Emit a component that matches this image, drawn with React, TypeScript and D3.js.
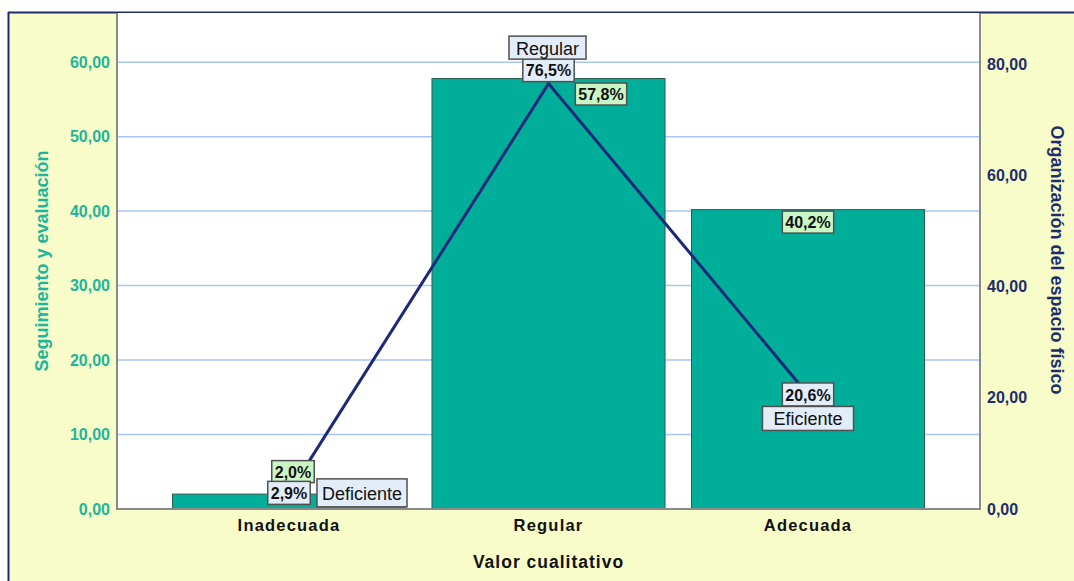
import React from "react";
import * as d3 from "d3";

const categories = ["Inadecuada", "Regular", "Adecuada"];
const barValues = [2.0, 57.8, 40.2];
const lineValues = [2.9, 76.5, 20.6];
const lineCategoryLabels = ["Deficiente", "Regular", "Eficiente"];
const leftTicks = [0, 10, 20, 30, 40, 50, 60];
const rightTicks = [0, 20, 40, 60, 80];
const leftTitle = "Seguimiento y evaluación";
const rightTitle = "Organización del espacio físico";
const xTitle = "Valor cualitativo";

const W = 1074;
const H = 581;
const plot = { left: 117, right: 980, top: 13, bottom: 509 };
const FONT = "'Liberation Sans', Arial, sans-serif";

const C = {
  bg: "#f8fcc9",
  bar: "#00ae9a",
  barStroke: "#2d5a52",
  line: "#1b2a78",
  grid: "#a9c5f2",
  axis: "#8a8a8a",
  teal: "#1db59b",
  navy: "#1e2c6b",
  green: "#c9f6c4",
  blue: "#e3edf9",
  boxStroke: "#505050",
};

const fmt = (v: number, d: number) => v.toFixed(d).replace(".", ",");

let ctx: CanvasRenderingContext2D | null = null;
function measure(text: string, size: number, bold: boolean, ls: number) {
  if (!ctx && typeof document !== "undefined") {
    ctx = document.createElement("canvas").getContext("2d");
  }
  if (ctx) {
    ctx.font = `${bold ? 700 : 400} ${size}px ${FONT}`;
    return ctx.measureText(text).width + ls * (text.length - 1);
  }
  return text.length * size * 0.55;
}

function Box({ cx, cy, text, fill, bold, size, ls, padX, h }: any) {
  const tw = measure(text, size, bold, ls);
  const bw = tw + padX * 2;
  return (
    <g>
      <rect x={cx - bw / 2} y={cy - h / 2} width={bw} height={h} fill={fill} stroke={C.boxStroke} strokeWidth={1.5} />
      <text x={cx} y={cy} textAnchor="middle" dominantBaseline="central" fontSize={size} fontWeight={bold ? 700 : 400} letterSpacing={ls} fill="#111" dy="0.05em">
        {text}
      </text>
    </g>
  );
}

export default function App() {
  const x = d3
    .scaleBand<string>()
    .domain(categories)
    .range([plot.left, plot.right])
    .paddingInner(0.102)
    .paddingOuter(0.2138);
  const yL = d3.scaleLinear().domain([0, 66.6]).range([plot.bottom, plot.top]);
  const yR = d3.scaleLinear().domain([0, 89.2]).range([plot.bottom, plot.top]);
  const cx = (c: string) => (x(c) as number) + x.bandwidth() / 2;

  const lineGen = d3
    .line<number>()
    .x((_, i) => cx(categories[i]))
    .y((d) => yR(d));

  // label layout offsets (relative to bar top / line point)
  const barLabelOffsets = [
    { dx: 4, dy: -22.5 },
    { dx: 52.5, dy: 15.5 },
    { dx: 0, dy: 12.5 },
  ];
  const lineLabelOffsets = [{ dy: 0 }, { dy: -13.5 }, { dy: 0 }];
  const catLabelOffsets = [
    { dx: 73, dy: 0, h: 28, pad: 5 },
    { dx: -1, dy: -36, h: 23, pad: 7 },
    { dx: 0, dy: 24, h: 24, pad: 11 },
  ];

  return (
    <svg width={W} height={H} style={{ position: "absolute", left: 0, top: 0 }} fontFamily={FONT}>
      <rect x={0} y={0} width={W} height={H} fill="#fff" />
      <rect x={8} y={12} width={W} height={H} fill={C.bg} />
      <line x1={8.5} y1={12} x2={8.5} y2={H} stroke={C.navy} strokeWidth={2} />
      <line x1={8} y1={12.5} x2={W} y2={12.5} stroke={C.navy} strokeWidth={2} />
      <rect x={plot.left} y={plot.top} width={plot.right - plot.left} height={plot.bottom - plot.top} fill="#fff" />

      {leftTicks
        .filter((t) => t > 0)
        .map((t) => (
          <line key={t} x1={plot.left} x2={plot.right} y1={yL(t)} y2={yL(t)} stroke={C.grid} strokeWidth={1.5} />
        ))}

      {categories.map((c, i) => (
        <rect
          key={c}
          x={x(c)}
          y={yL(barValues[i])}
          width={x.bandwidth()}
          height={plot.bottom - yL(barValues[i])}
          fill={C.bar}
          stroke={C.barStroke}
          strokeWidth={1}
        />
      ))}

      <line x1={plot.left} x2={plot.left} y1={plot.top} y2={plot.bottom + 1} stroke={C.axis} strokeWidth={2} />
      <line x1={plot.right} x2={plot.right} y1={plot.top} y2={plot.bottom + 1} stroke={C.axis} strokeWidth={2} />
      <line x1={plot.left} x2={plot.right} y1={plot.bottom} y2={plot.bottom} stroke={C.axis} strokeWidth={2} />

      <path d={lineGen(lineValues) || ""} fill="none" stroke={C.line} strokeWidth={3} />

      {leftTicks.map((t) => (
        <text key={t} x={110} y={yL(t)} textAnchor="end" dominantBaseline="central" fontSize={16} fontWeight={700} fill={C.teal}>
          {fmt(t, 2)}
        </text>
      ))}
      {rightTicks.map((t) => (
        <text key={t} x={987} y={yR(t)} textAnchor="start" dominantBaseline="central" fontSize={16} fontWeight={700} fill={C.navy}>
          {fmt(t, 2)}
        </text>
      ))}

      {categories.map((c) => (
        <text key={c} x={cx(c)} y={525} textAnchor="middle" dominantBaseline="central" fontSize={16.5} fontWeight={700} letterSpacing={1.2} fill="#111">
          {c}
        </text>
      ))}
      <text x={(plot.left + plot.right) / 2} y={562} textAnchor="middle" dominantBaseline="central" fontSize={17.5} fontWeight={700} letterSpacing={1} fill="#111">
        {xTitle}
      </text>
      <text transform={`translate(42,261) rotate(-90)`} textAnchor="middle" dominantBaseline="central" fontSize={18} fontWeight={700} fill={C.teal}>
        {leftTitle}
      </text>
      <text transform={`translate(1057,260) rotate(90)`} textAnchor="middle" dominantBaseline="central" fontSize={18} fontWeight={700} fill={C.navy}>
        {rightTitle}
      </text>

      {categories.map((c, i) => (
        <Box
          key={"b" + c}
          cx={cx(c) + barLabelOffsets[i].dx}
          cy={yL(barValues[i]) + barLabelOffsets[i].dy}
          text={fmt(barValues[i], 1) + "%"}
          fill={C.green}
          bold
          size={16}
          ls={0}
          padX={3}
          h={22}
        />
      ))}
      {categories.map((c, i) => (
        <Box
          key={"l" + c}
          cx={cx(c)}
          cy={yR(lineValues[i]) + lineLabelOffsets[i].dy}
          text={fmt(lineValues[i], 1) + "%"}
          fill={C.blue}
          bold
          size={16}
          ls={0}
          padX={3}
          h={23}
        />
      ))}
      {categories.map((c, i) => (
        <Box
          key={"c" + c}
          cx={cx(c) + catLabelOffsets[i].dx}
          cy={yR(lineValues[i]) + catLabelOffsets[i].dy}
          text={lineCategoryLabels[i]}
          fill={C.blue}
          bold={false}
          size={18}
          ls={0}
          padX={catLabelOffsets[i].pad}
          h={catLabelOffsets[i].h}
        />
      ))}
    </svg>
  );
}
